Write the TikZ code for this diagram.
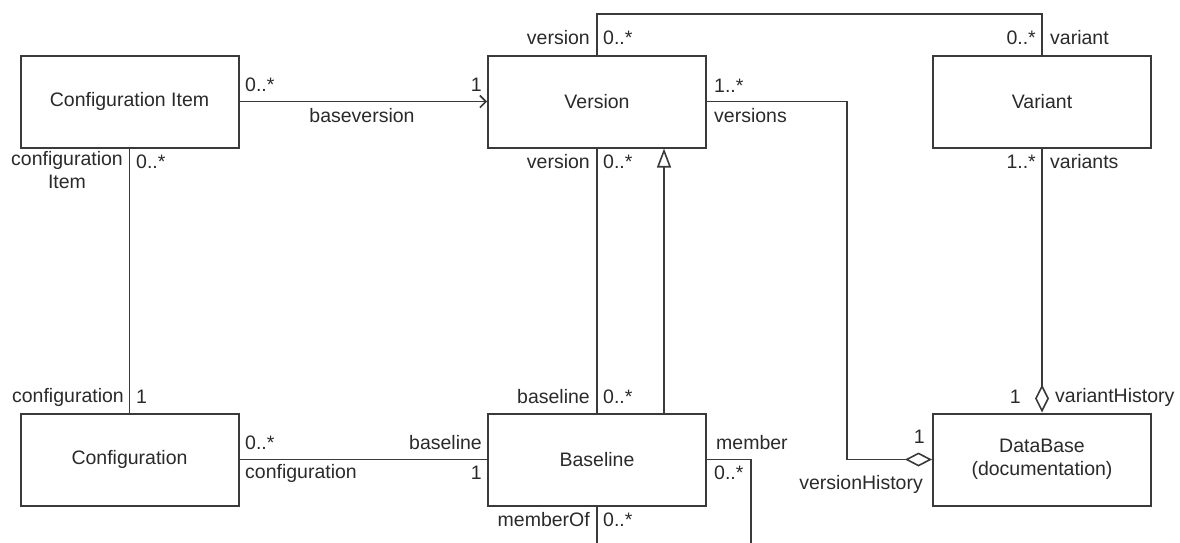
\documentclass[tikz,border=0pt]{standalone}
\usepackage{fontspec}
\setmainfont{Liberation Sans}
\usetikzlibrary{arrows.meta}
\definecolor{linec}{HTML}{3A3A3A}
\definecolor{textc}{HTML}{2A2A2A}
\begin{document}
\begin{tikzpicture}[x=1pt,y=-1pt,
  cls/.style={draw=linec, line width=2pt, fill=white, minimum width=218pt, minimum height=92pt, inner sep=0pt, font=\fontsize{19.5}{23}\selectfont, text=textc, align=center},
  lbl/.style={inner sep=0pt, font=\fontsize{19.5}{23}\selectfont, text=textc},
  conn/.style={draw=linec, line width=1.6pt},
]
\useasboundingbox (0,0) rectangle (1180,542);
% classes
\node[cls] (ci)   at (129.5,101.5) {Configuration Item};
\node[cls] (ver)  at (597,101.5)  {Version};
\node[cls] (var)  at (1042,101.5) {Variant};
\node[cls] (conf) at (129.5,459.5) {Configuration};
\node[cls] (base) at (597,459.5)  {Baseline};
\node[cls] (db)   at (1042,459.5) {DataBase\\(documentation)};
% helper coordinates
\coordinate (t1) at (597,14);
\coordinate (t2) at (1042,14);
\coordinate (r1) at (847,280);
\coordinate (g)  at (664,0);
\coordinate (m1) at (751,545);
\coordinate (m2) at (597,545);
% connectors
\draw[conn, -{Straight Barb[length=6pt,width=12pt]}] (ci.east) -- (ver.west);
\draw[conn] (ci.south) -- (conf.north);
\draw[conn] (ver.north) -- (t1) -- (t2) -- (var.north);
\draw[conn, {Diamond[open,length=27pt,width=14pt]}-] (db.west) -| (r1) |- (ver.east);
\draw[conn] (ver.south) -- (base.north);
\draw[conn, -{Triangle[open,length=19pt,width=14pt]}] (base.north -| g) -- (ver.south -| g);
\draw[conn, -{Diamond[open,length=28pt,width=14pt]}] (var.south) -- (db.north);
\draw[conn] (conf.east) -- (base.west);
\draw[conn] (base.east) -| (m1);
\draw[conn] (base.south) -- (m2);
% labels
\node[lbl, anchor=west] (l1) at (245,85) {0..*};
\node[lbl, anchor=east] (l2) at (482,85) {1};
\node[lbl] (l3) at (362,116) {baseversion};
\node[lbl, align=center] (l4) at (67,170) {configuration\\Item};
\node[lbl, anchor=west] (l5) at (136,162) {0..*};
\node[lbl, anchor=east] (l6) at (124,397) {configuration};
\node[lbl, anchor=west] (l7) at (136,397) {1};
\node[lbl, anchor=east] (l8) at (590,38) {version};
\node[lbl, anchor=west] (l9) at (603,38) {0..*};
\node[lbl, anchor=east] (l10) at (1036,38) {0..*};
\node[lbl, anchor=west] (l11) at (1050,38) {variant};
\node[lbl, anchor=west] (l12) at (714,86) {1..*};
\node[lbl, anchor=west] (l13) at (714,116) {versions};
\node[lbl, anchor=east] (l14) at (590,162) {version};
\node[lbl, anchor=west] (l15) at (603,162) {0..*};
\node[lbl, anchor=east] (l16) at (1036,162) {1..*};
\node[lbl, anchor=west] (l17) at (1050,162) {variants};
\node[lbl, anchor=east] (l18) at (590,397) {baseline};
\node[lbl, anchor=west] (l19) at (603,397) {0..*};
\node[lbl, anchor=east] (l20) at (1021,397) {1};
\node[lbl, anchor=west] (l21) at (1055,397) {variantHistory};
\node[lbl, anchor=east] (l22) at (925,437) {1};
\node[lbl, anchor=east] (l23) at (923,484) {versionHistory};
\node[lbl, anchor=west] (l24) at (716,443) {member};
\node[lbl, anchor=west] (l25) at (714,473) {0..*};
\node[lbl, anchor=east] (l26) at (590,520) {memberOf};
\node[lbl, anchor=west] (l27) at (603,520) {0..*};
\node[lbl, anchor=west] (l28) at (245,443) {0..*};
\node[lbl, anchor=west] (l29) at (245,473) {configuration};
\node[lbl, anchor=east] (l30) at (482,443) {baseline};
\node[lbl, anchor=east] (l31) at (482,473) {1};
\end{tikzpicture}
\end{document}
